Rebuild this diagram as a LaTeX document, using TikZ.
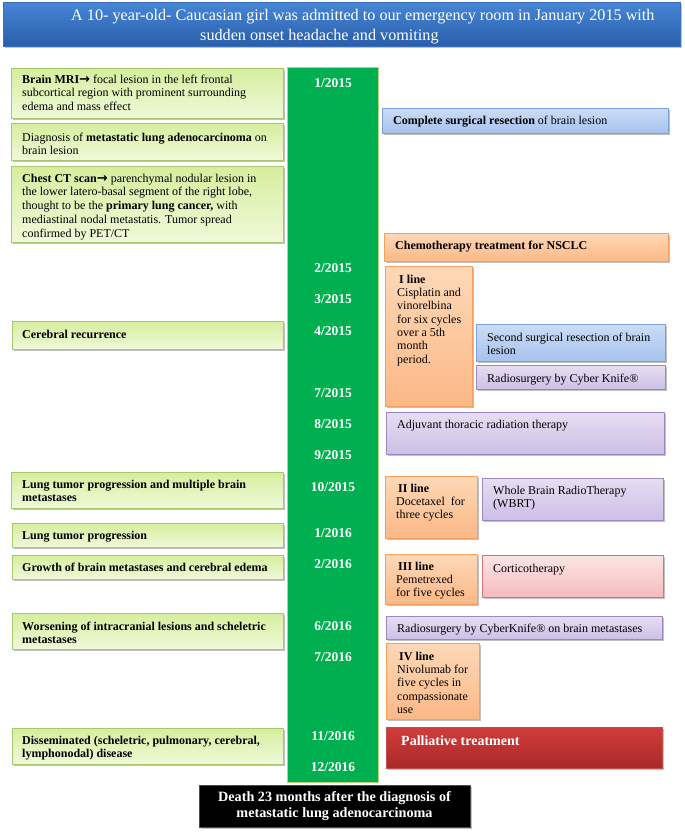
\documentclass[tikz,border=0pt]{standalone}
\usepackage{fontspec}
\setmainfont{Liberation Serif}
\newfontfamily\arrfont{DejaVu Sans}
\usetikzlibrary{shadows}
\definecolor{colgreen}{HTML}{00B050}
\definecolor{colgreenb}{HTML}{B8D47E}
\definecolor{lgtop}{HTML}{D6EE9E}
\definecolor{lgbot}{HTML}{F0F9DA}
\definecolor{lgbord}{HTML}{A8C86E}
\definecolor{bltop}{HTML}{CBDCF6}
\definecolor{blbot}{HTML}{A6C3EE}
\definecolor{blbord}{HTML}{7BA0DA}
\definecolor{ortop}{HTML}{FED8B7}
\definecolor{orbot}{HTML}{FBB886}
\definecolor{orbord}{HTML}{F5A05E}
\definecolor{putop}{HTML}{E6DEF2}
\definecolor{pubot}{HTML}{CCBFE6}
\definecolor{pubord}{HTML}{9C87C2}
\definecolor{pktop}{HTML}{FCE4E4}
\definecolor{pkbot}{HTML}{F6BBBB}
\definecolor{pkbord}{HTML}{D47474}
\definecolor{rdtop}{HTML}{D23C3C}
\definecolor{rdbot}{HTML}{A82828}
\definecolor{rdbord}{HTML}{C0504D}
\definecolor{tttop}{HTML}{4686D6}
\definecolor{ttbot}{HTML}{2A5EAA}
\definecolor{ttbord}{HTML}{3A70B8}
\newcommand{\arr}{{\arrfont\bfseries\fontsize{13}{13}\selectfont →}}
\newcommand\mybox[6]{\node[#1, anchor=north west, minimum width={(#5-#3)*1pt}, minimum height={(#6-#4)*1pt}, inner sep=0pt] (#2) at (#3,#4) {};}
\begin{document}
\begin{tikzpicture}[x=1pt,y=-1pt,
  shad/.style={drop shadow={shadow xshift=1.2pt, shadow yshift=-1.8pt, opacity=0.35, fill=black!70}},
  leftbox/.style={shad, top color=lgtop, bottom color=lgbot, draw=lgbord, line width=0.8pt},
  bluebox/.style={shad, top color=bltop, bottom color=blbot, draw=blbord, line width=0.8pt},
  orbox/.style={shad, top color=ortop, bottom color=orbot, draw=orbord, line width=0.8pt},
  pubox/.style={shad, top color=putop, bottom color=pubot, draw=pubord, line width=0.8pt},
  pkbox/.style={shad, top color=pktop, bottom color=pkbot, draw=pkbord, line width=0.8pt},
  rdbox/.style={shad, top color=rdtop, bottom color=rdbot, draw=rdbord, line width=0.8pt},
  titlebox/.style={shad, top color=tttop, bottom color=ttbot, draw=ttbord, line width=0.8pt},
  deathbox/.style={shad, fill=black, draw=black!70, line width=0.8pt},
  colbox/.style={fill=colgreen, draw=colgreenb, line width=1pt},
  ltxt/.style={anchor=north west, inner sep=0pt, align=left, font=\fontsize{12}{13.8}\selectfont},
  rtxt/.style={anchor=north west, inner sep=0pt, align=left, font=\fontsize{12}{13.35}\selectfont},
  datetxt/.style={anchor=center, inner sep=0pt, text=white, font=\fontsize{13.5}{15}\selectfont\bfseries},
  titletxt/.style={anchor=west, inner sep=0pt, text=white, font=\fontsize{16.2}{18}\selectfont},
]
\useasboundingbox (0,0) rectangle (685,833);
% title
\mybox{titlebox}{title}{3}{2}{680}{46}
\node[titletxt] (ti1) at (71,17) {A 10- year-old- Caucasian girl was admitted to our emergency room in January 2015 with};
\node[titletxt] (ti2) at (200,37) {sudden onset headache and vomiting};
% timeline column
\mybox{colbox}{col}{287}{67}{378}{782}
\node[datetxt] (d1) at (333,83) {1/2015};
\node[datetxt] (d2) at (333,268) {2/2015};
\node[datetxt] (d3) at (333,299) {3/2015};
\node[datetxt] (d4) at (333,331) {4/2015};
\node[datetxt] (d5) at (333,393) {7/2015};
\node[datetxt] (d6) at (333,424) {8/2015};
\node[datetxt] (d7) at (333,455) {9/2015};
\node[datetxt] (d8) at (333,487) {10/2015};
\node[datetxt] (d9) at (333,533) {1/2016};
\node[datetxt] (d10) at (333,564) {2/2016};
\node[datetxt] (d11) at (333,626) {6/2016};
\node[datetxt] (d12) at (333,657) {7/2016};
\node[datetxt] (d13) at (333,736) {11/2016};
\node[datetxt] (d14) at (333,767) {12/2016};
% left events
\mybox{leftbox}{l1}{11}{68}{283}{118}
\node[ltxt] (lt1) at (22,74.5) {\textbf{Brain MRI}\arr{} focal lesion in the left frontal\\subcortical region with prominent surrounding\\edema and mass effect};
\mybox{leftbox}{l2}{11}{123}{283}{160}
\node[ltxt] (lt2) at (22,132.5) {Diagnosis of \textbf{metastatic lung adenocarcinoma} on\\brain lesion};
\mybox{leftbox}{l3}{11}{166}{283}{242}
\node[ltxt] (lt3) at (22,173.5) {\textbf{Chest CT scan}\arr{} parenchymal nodular lesion in\\the lower latero-basal segment of the right lobe,\\thought to be the \textbf{primary lung cancer,} with\\mediastinal nodal metastatis. Tumor spread\\confirmed by PET/CT};
\mybox{leftbox}{l4}{12}{321}{283}{349}
\node[ltxt] (lt4) at (22,329.5) {\textbf{Cerebral recurrence}};
\mybox{leftbox}{l5}{11}{472}{283}{508}
\node[ltxt] (lt5) at (22,479.5) {\textbf{Lung tumor progression and multiple brain}\\\textbf{metastases}};
\mybox{leftbox}{l6}{12}{523}{283}{547}
\node[ltxt] (lt6) at (22,530.5) {\textbf{Lung tumor progression}};
\mybox{leftbox}{l7}{12}{555}{283}{579}
\node[ltxt] (lt7) at (22,562.5) {\textbf{Growth of brain metastases and cerebral edema}};
\mybox{leftbox}{l8}{12}{613}{283}{649}
\node[ltxt] (lt8) at (22,621.5) {\textbf{Worsening of intracranial lesions and scheletric}\\\textbf{metastases}};
\mybox{leftbox}{l9}{12}{728}{283}{764}
\node[ltxt] (lt9) at (22,735.5) {\textbf{Disseminated (scheletric, pulmonary, cerebral,}\\\textbf{lymphonodal) disease}};
% right treatments
\mybox{bluebox}{r1}{382}{108}{668}{133}
\node[rtxt] (rt1) at (393,115.5) {\textbf{Complete surgical resection} of brain lesion};
\mybox{orbox}{r2}{384}{233}{668}{261}
\node[rtxt] (rt2) at (395,240.5) {\textbf{Chemotherapy treatment for NSCLC}};
\mybox{orbox}{r3}{385}{266}{472}{406}
\node[rtxt] (rt3) at (397,274.5) {\hspace{2pt}\textbf{I line}\\Cisplatin and\\vinorelbina\\for six cycles\\over a 5th\\month\\period.};
\mybox{bluebox}{r4}{476}{324}{665}{361}
\node[rtxt] (rt4) at (487,332.5) {Second surgical resection of brain\\lesion};
\mybox{pubox}{r5}{476}{365}{665}{389}
\node[rtxt] (rt5) at (487,373.5) {Radiosurgery by Cyber Knife®};
\mybox{pubox}{r6}{386}{412}{664}{454}
\node[rtxt] (rt6) at (397,419.5) {Adjuvant thoracic radiation therapy};
\mybox{orbox}{r7}{385}{476}{477}{538}
\node[rtxt] (rt7) at (396,483.5) {\hspace{2pt}\textbf{II line}\\Docetaxel\ \ for\\three cycles};
\mybox{pubox}{r8}{482}{478}{663}{520}
\node[rtxt] (rt8) at (493,485.5) {Whole Brain RadioTherapy\\(WBRT)};
\mybox{orbox}{r9}{385}{554}{477}{604}
\node[rtxt] (rt9) at (396,561.5) {\hspace{2pt}\textbf{III line}\\Pemetrexed\\for five cycles};
\mybox{pkbox}{r10}{482}{555}{663}{597}
\node[rtxt] (rt10) at (493,563.5) {Corticotherapy};
\mybox{pubox}{r11}{386}{616}{662}{639}
\node[rtxt] (rt11) at (397,623.5) {Radiosurgery by CyberKnife® on brain metastases};
\mybox{orbox}{r12}{386}{643}{479}{719}
\node[rtxt] (rt12) at (397,651.5) {\hspace{2pt}\textbf{IV line}\\Nivolumab for\\five cycles in\\compassionate\\use};
\mybox{rdbox}{r13}{386}{727}{662}{768}
\node[anchor=west, inner sep=0pt, text=white, font=\fontsize{14}{16}\selectfont\bfseries] (rt13) at (401,741) {Palliative treatment};
% death
\mybox{deathbox}{death}{199}{785}{470}{827}
\node[anchor=center, inner sep=0pt, align=center, text=white, font=\fontsize{14.2}{15.2}\selectfont\bfseries] (dt) at (334.5,806) {Death 23 months after the diagnosis of\\metastatic lung adenocarcinoma};
\end{tikzpicture}
\end{document}
